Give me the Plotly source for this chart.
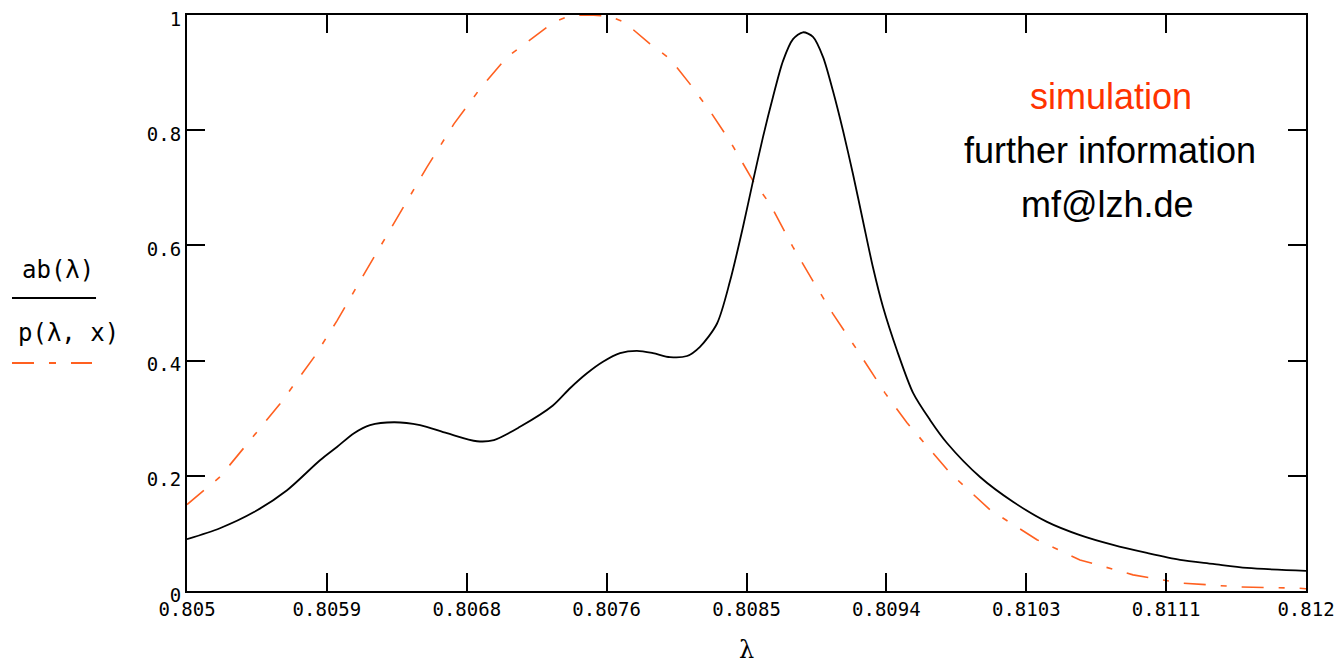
import plotly.graph_objects as go

# ab(λ) — black solid curve
lam_ab = [0.805000, 0.805206, 0.805419, 0.805626, 0.805832, 0.805938, 0.806045, 0.806145,
          0.806295, 0.806458, 0.806626, 0.806814, 0.806920, 0.807083, 0.807289, 0.807396,
          0.807502, 0.807602, 0.807709, 0.807815, 0.807915, 0.808021, 0.808128, 0.808209,
          0.808315, 0.808397, 0.808478, 0.808541, 0.808603, 0.808666, 0.808728, 0.808791,
          0.808853, 0.808916, 0.808979, 0.809041, 0.809104, 0.809166, 0.809229, 0.809291,
          0.809354, 0.809441, 0.809542, 0.809648, 0.809754, 0.809961, 0.810167, 0.810380,
          0.810586, 0.810793, 0.811005, 0.811212, 0.811418, 0.811631, 0.812000]
ab_vals = [0.090, 0.109, 0.137, 0.175, 0.227, 0.250, 0.274, 0.288,
           0.293, 0.288, 0.274, 0.260, 0.262, 0.285, 0.322, 0.352,
           0.378, 0.398, 0.413, 0.417, 0.413, 0.406, 0.408, 0.424,
           0.464, 0.538, 0.632, 0.712, 0.788, 0.858, 0.920, 0.958,
           0.970, 0.962, 0.927, 0.868, 0.799, 0.724, 0.642, 0.562,
           0.493, 0.418, 0.344, 0.297, 0.257, 0.198, 0.155, 0.120,
           0.097, 0.080, 0.066, 0.054, 0.047, 0.040, 0.035]

# p(λ, x) — orange dash-dot curve
lam_p = [0.805000, 0.805206, 0.805375, 0.805582, 0.805795, 0.805938, 0.806082, 0.806232,
         0.806358, 0.806501, 0.806670, 0.806833, 0.807002, 0.807190, 0.807296, 0.807396,
         0.807521, 0.807640, 0.807734, 0.807896, 0.808021, 0.808147, 0.808272, 0.808397,
         0.808541, 0.808647, 0.808791, 0.808916, 0.809041, 0.809210, 0.809366, 0.809504,
         0.809648, 0.809773, 0.810023, 0.810317, 0.810586, 0.810918, 0.811212, 0.811587,
         0.811944, 0.812000]
p_vals = [0.150, 0.198, 0.255, 0.325, 0.406, 0.469, 0.538, 0.608,
          0.667, 0.736, 0.811, 0.872, 0.927, 0.967, 0.988, 0.999,
          1.000, 0.998, 0.988, 0.950, 0.924, 0.880, 0.833, 0.781,
          0.712, 0.672, 0.597, 0.538, 0.481, 0.411, 0.344, 0.292,
          0.245, 0.205, 0.141, 0.089, 0.054, 0.028, 0.014, 0.007,
          0.005, 0.004]

x_tickvals = [0.805, 0.805875, 0.80675, 0.807625, 0.8085, 0.809375, 0.81025, 0.811125, 0.812]
x_ticktext = ["0.805", "0.8059", "0.8068", "0.8076", "0.8085", "0.8094", "0.8103", "0.8111", "0.812"]
y_tickvals = [0, 0.2, 0.4, 0.6, 0.8, 1]
y_ticktext = ["0", "0.2", "0.4", "0.6", "0.8", "1"]

ORANGE = "#ff6020"
DASH = "22px,15px,6px,15px"
MONO = "DejaVu Sans Mono"

fig = go.Figure()
fig.add_trace(go.Scatter(x=lam_p, y=p_vals, mode="lines",
                         line=dict(color=ORANGE, width=1.6, dash=DASH),
                         showlegend=False, hoverinfo="skip"))
fig.add_trace(go.Scatter(x=lam_ab, y=ab_vals, mode="lines",
                         line=dict(color="black", width=1.8, shape="spline", smoothing=0.8),
                         showlegend=False, hoverinfo="skip"))

axis_common = dict(showgrid=False, zeroline=False, showline=True, linecolor="black",
                   linewidth=2, mirror="ticks", ticks="inside", ticklen=18,
                   tickwidth=1.5, tickcolor="black", automargin=False,
                   ticklabeloverflow="allow",
                   tickfont=dict(family=MONO, size=19, color="black"))

fig.update_xaxes(range=[0.805, 0.812], tickvals=x_tickvals, ticktext=x_ticktext,
                 title=dict(text="λ", font=dict(family="DejaVu Serif", size=24, color="black"),
                            standoff=22),
                 **axis_common)
fig.update_yaxes(range=[0, 1], tickvals=y_tickvals, ticktext=y_ticktext,
                 ticklabelshift=4, **axis_common)

# y-axis "title" as fraction with legend line sample
fig.add_annotation(x=-0.1153, y=0.557, xref="paper", yref="paper", text="ab(λ)",
                   xanchor="center", showarrow=False,
                   font=dict(family=MONO, size=24, color="black"))
fig.add_annotation(x=-0.1063, y=0.448, xref="paper", yref="paper", text="p(λ, x)",
                   xanchor="center", showarrow=False,
                   font=dict(family=MONO, size=24, color="black"))
fig.add_shape(type="line", xref="paper", yref="paper", x0=-0.1564, x1=-0.0813,
              y0=0.5087, y1=0.5087, line=dict(color="black", width=2))
fig.add_shape(type="line", xref="paper", yref="paper", x0=-0.1564, x1=-0.0849,
              y0=0.3958, y1=0.3958, line=dict(color=ORANGE, width=2, dash="22px,15px,7px,15px"))

# text block on the right
fig.add_annotation(x=0.8257, y=0.8976, xref="paper", yref="paper", text="simulation",
                   xanchor="center", showarrow=False,
                   font=dict(family="Liberation Sans", size=36, color="#ff3300"))
fig.add_annotation(x=0.8248, y=0.8038, xref="paper", yref="paper", text="further information",
                   xanchor="center", showarrow=False,
                   font=dict(family="Liberation Sans", size=36, color="black"))
fig.add_annotation(x=0.8222, y=0.7100, xref="paper", yref="paper", text="mf@lzh.de",
                   xanchor="center", showarrow=False,
                   font=dict(family="Liberation Sans", size=36, color="black"))

# page body has an 8px margin, so the figure is shrunk by 8px in each direction
fig.update_layout(width=1335, height=662, margin=dict(l=179, r=37, t=7, b=79, autoexpand=False),
                  paper_bgcolor="white", plot_bgcolor="white")

fig.write_html("out.html")
